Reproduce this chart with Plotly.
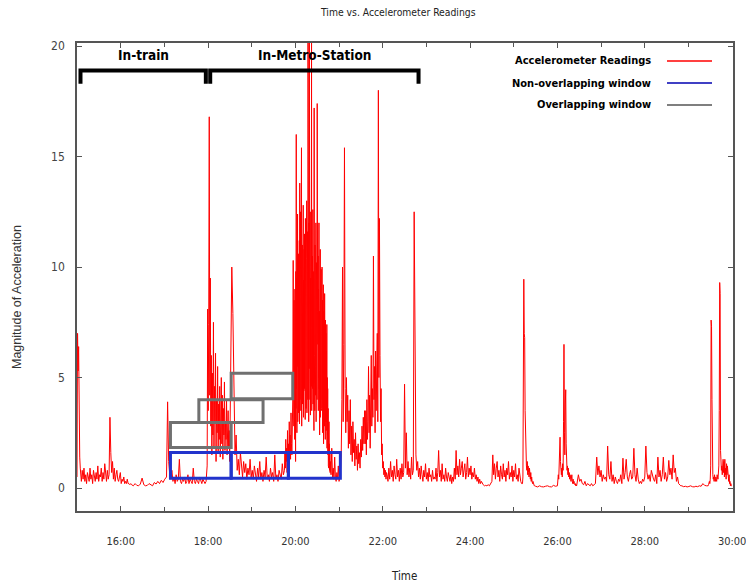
import numpy as np
import plotly.graph_objects as go

# ---------------- data ----------------
# time segments (minutes) and accelerometer magnitudes sampled within each
segment_bounds = [
    (15.00, 15.10), (15.10, 16.25), (16.25, 17.05), (17.05, 17.98),
    (17.98, 18.52), (18.52, 19.75), (19.75, 19.95), (19.95, 20.80),
    (20.80, 21.05), (21.05, 21.60), (21.60, 22.10), (22.10, 23.20),
    (23.20, 24.30), (24.30, 24.50), (24.50, 25.20), (25.20, 25.50),
    (25.50, 26.00), (26.00, 26.45), (26.45, 26.90), (26.90, 27.40),
    (27.40, 27.90), (27.90, 28.40), (28.40, 28.85), (28.85, 29.45),
    (29.45, 30.00),
]
segment_values = [
    [0.5, 7.0, 5.3, 6.4, 2.1, 1.4, 0.9, 0.6],
    [0.3, 0.8, 0.4, 0.9, 0.3, 0.6, 0.2, 0.7, 0.5, 0.3, 0.9, 0.4, 0.6, 0.2, 0.8, 0.5,
     0.3, 0.7, 0.4, 1.0, 0.3, 0.6, 0.5, 0.9, 0.3, 0.7, 0.4, 1.1, 0.5, 0.3, 0.8, 0.4,
     0.6, 3.2, 1.6, 0.7, 1.2, 0.4, 0.9, 0.3, 0.6, 0.8, 0.4, 0.3, 0.5, 0.7, 0.2, 0.4,
     0.3, 0.5, 0.2, 0.3, 0.2, 0.4, 0.2, 0.2, 0.15, 0.2],
    [0.15, 0.1, 0.2, 0.12, 0.1, 0.18, 0.45, 0.15, 0.1, 0.12, 0.2, 0.15, 0.1, 0.25,
     0.18, 0.3, 0.2, 0.35, 0.25, 0.4],
    [0.5, 3.9, 1.2, 0.6, 0.4, 0.8, 0.3, 0.5, 0.2, 0.6, 0.3, 0.4, 1.3, 0.3, 0.2, 0.4,
     0.3, 0.5, 0.2, 0.3, 0.6, 0.2, 0.4, 0.3, 0.2, 0.9, 0.3, 0.2, 0.4, 0.3, 0.2, 0.5,
     0.3, 0.2, 0.4, 0.3, 0.2, 0.3],
    [1.0, 8.1, 3.5, 7.4, 16.8, 4.2, 9.5, 2.8, 6.0, 1.5, 5.2, 2.4, 7.5, 1.8, 4.6, 3.0,
     6.1, 1.2, 4.0, 2.5, 5.5, 1.6, 3.8, 2.2, 4.6, 1.4, 3.2, 5.0, 2.0, 4.2, 1.3, 3.6,
     2.4, 4.8, 1.7, 3.0, 2.2, 4.0, 1.5, 2.8, 3.5, 1.9, 2.6, 1.2, 3.0],
    [4.5, 10.0, 7.9, 3.0, 1.5, 2.4, 0.8, 1.3, 0.6, 1.6, 0.9, 0.5, 1.2, 0.7, 1.1, 0.4,
     0.9, 0.6, 1.3, 0.5, 0.8, 0.4, 1.0, 0.6, 0.3, 0.9, 0.5, 1.2, 0.4, 0.7, 0.3, 0.8,
     0.5, 1.4, 0.4, 0.6, 0.3, 0.9, 0.5, 0.7, 0.3, 1.5, 0.4, 0.6, 0.3, 0.8, 0.5, 0.4,
     1.1, 0.6],
    [0.8, 1.6, 0.9, 2.2, 1.2, 1.8, 0.7, 2.6, 1.4, 2.0, 1.1, 3.0, 1.6, 2.4, 1.3, 3.4,
     2.0, 1.5, 2.8, 4.0],
    [10.3, 3.5, 7.0, 2.8, 8.5, 4.0, 6.5, 2.2, 9.0, 5.0,
     7.5, 1.2, 9.8, 3.6, 16.0, 4.5, 8.0, 2.5, 9.5, 5.5, 12.4, 3.0, 8.8, 4.2, 10.6, 3.4, 7.8, 5.0, 11.2, 2.9,
     13.8, 4.0, 9.2, 6.0, 12.5, 3.5, 10.0, 5.0, 15.4, 2.8, 9.6, 4.6, 11.0, 3.8, 8.4, 5.2, 12.8, 3.2, 9.4, 4.4,
     10.8, 4.5, 11.5, 6.5, 9.0, 3.1, 12.2, 5.0, 8.6, 3.6, 10.4, 4.8, 13.0, 3.4, 9.8, 5.6, 11.6, 4.0, 20.2, 6.2,
     9.4, 3.0, 12.0, 5.4, 20.2, 7.0, 10.2, 4.0, 12.5, 3.3, 9.5, 6.0, 11.2, 4.6, 20.2, 3.5, 8.5, 5.0, 10.5, 4.5,
     12.6, 3.8, 9.8, 5.2, 11.4, 2.6, 17.2, 6.0, 9.0, 3.5, 11.0, 5.5, 8.8, 4.2, 12.0, 3.0, 10.2, 5.6, 9.4, 4.0,
     17.4, 4.0, 8.0, 6.5, 10.5, 3.5, 9.0, 5.0, 12.0, 4.5, 8.0, 2.4, 9.5, 5.5, 10.8, 3.2, 8.6, 4.8, 9.9, 3.6,
     7.0, 3.5, 10.0, 4.0, 8.5, 2.5, 7.5, 4.0, 9.2, 2.0, 8.0, 3.4, 7.2, 2.8, 8.8, 3.8, 6.6, 2.2, 7.6, 3.0,
     7.0, 2.6, 6.2, 3.0, 7.4, 1.8, 5.0, 2.4, 4.5, 1.5, 3.6, 1.0, 2.5, 0.9, 3.0, 1.2, 2.0, 0.8, 1.6, 0.7],
    [1.2, 0.6, 1.8, 0.5, 0.9, 0.4, 1.4, 0.5, 0.3, 0.7, 0.4, 1.0, 0.3, 0.5, 0.8],
    [1.5, 4.0, 10.0, 3.0, 6.5, 15.4, 4.5, 2.5, 5.0, 3.0, 4.2, 1.8, 3.5, 2.0, 4.0, 1.5,
     2.8, 1.2, 3.0, 1.6, 2.2, 1.0, 2.5, 1.3, 1.9, 0.8, 2.0, 1.1, 1.6, 0.9, 2.2, 1.4,
     2.8, 1.7, 3.2, 2.0, 3.5],
    [2.0, 3.5, 1.5, 4.0, 2.2, 3.0, 5.5, 2.5, 4.2, 1.8, 3.6, 6.0, 2.8, 4.5, 3.2, 10.5,
     4.0, 5.5, 2.5, 6.2, 3.5, 4.8, 7.0, 3.0, 18.0, 5.0, 12.2, 6.0, 3.0, 4.5, 1.5, 2.0,
     0.9, 1.2, 0.6, 0.9, 0.5, 0.8, 0.4, 0.7],
    [0.6, 0.3, 0.9, 0.4, 1.2, 0.5, 0.8, 0.3, 1.0, 0.6, 0.4, 1.3, 0.5, 0.8, 0.3, 0.9,
     0.4, 1.1, 0.5, 0.7, 4.7, 0.9, 2.5, 0.6, 1.2, 0.5, 0.9, 0.4, 1.4, 0.6, 0.8, 12.5,
     7.1, 1.5, 0.8, 1.2, 0.5, 0.9, 0.4, 1.0, 0.6, 0.3, 0.8, 0.5, 1.1, 0.4, 0.7, 0.3,
     0.9, 0.5, 0.6, 0.3, 0.8, 0.4, 0.5],
    [0.4, 0.9, 0.3, 0.7, 1.7, 0.5, 0.8, 0.3, 1.1, 0.4, 0.6, 0.3, 0.9, 0.5, 0.3, 0.7,
     0.4, 0.3, 0.6, 0.2, 0.5, 0.3, 0.9, 0.4, 1.7, 0.6, 1.0, 0.5, 1.3, 0.6, 0.9, 1.2,
     0.5, 0.8, 1.1, 0.4, 0.7, 1.4, 0.5, 0.9, 0.6, 1.0, 0.4, 0.7, 0.5, 0.9, 0.4, 0.6,
     0.3, 0.5, 0.2, 0.4, 0.2, 0.3, 0.2],
    [0.15, 0.1, 0.12, 0.1, 0.15, 0.1, 0.2],
    [0.3, 1.5, 0.6, 1.1, 0.4, 0.9, 1.2, 0.5, 0.8, 0.3, 1.0, 0.6, 0.4, 1.1, 0.5, 0.8,
     0.3, 0.9, 0.6, 1.2, 0.4, 0.7, 0.5, 1.0, 0.3, 0.8, 0.5, 1.1, 0.4, 0.6, 0.3, 0.9,
     0.4, 0.3, 0.2],
    [0.2, 0.5, 3.0, 9.45, 7.0, 6.8, 3.5, 1.6, 2.5, 1.0, 0.8, 1.2, 0.6, 1.0, 0.7, 0.5,
     0.9, 0.6, 0.4, 0.7, 0.3, 0.5, 0.3, 0.2, 0.3, 0.2, 0.15, 0.1, 0.1, 0.1],
    [0.08, 0.05, 0.1, 0.06, 0.05, 0.08, 0.1, 0.06, 0.05, 0.12, 0.08],
    [0.1, 0.3, 0.6, 0.4, 1.0, 0.7, 2.3, 1.2, 0.8, 0.6, 0.9, 0.5, 1.1, 0.8, 3.0, 6.5,
     2.5, 1.5, 3.8, 4.45, 2.0, 1.2, 0.8, 1.0, 0.6, 0.9, 0.5, 0.7, 0.4, 0.6, 0.5, 0.3,
     0.4, 0.6, 0.3, 0.2, 0.4, 0.2, 0.3, 0.2, 0.15, 0.2, 0.1, 0.15, 0.1],
    [0.2, 0.6, 0.3, 0.4, 0.2, 0.15, 0.3, 0.1, 0.2, 0.15, 0.1, 0.2, 0.1, 0.15, 0.2],
    [1.4, 0.6, 1.0, 0.5, 0.8, 0.3, 0.6, 0.4, 0.5, 0.3, 1.9, 0.6, 0.4, 1.2, 0.3, 0.6,
     0.2, 0.5, 0.3, 0.2],
    [0.4, 0.3, 0.6, 0.2, 1.35, 0.4, 0.7, 1.3, 0.5, 0.3, 0.6, 0.8, 0.4, 0.5, 1.8, 0.6,
     0.3, 0.9, 0.4, 0.2],
    [0.3, 0.2, 0.4, 0.3, 0.5, 1.9, 0.7, 0.4, 0.6, 0.3, 0.8, 0.5, 0.4, 0.3, 0.6, 0.2,
     1.4, 0.5, 0.8, 0.3],
    [0.6, 1.4, 0.4, 0.7, 0.3, 0.5, 1.25, 0.6, 0.9, 0.4, 1.5, 0.7, 0.9, 0.3, 0.5, 0.2,
     0.15, 0.1],
    [0.1, 0.06, 0.08, 0.05, 0.07, 0.1, 0.06, 0.05, 0.08, 0.06, 0.1, 0.08, 0.2, 0.12, 0.1],
    [0.1, 0.15, 0.2, 0.3, 0.2, 0.4, 1.0, 7.6, 7.3, 4.0, 1.0, 0.6, 0.4, 0.5, 0.3, 0.6,
     0.4, 0.3, 0.5, 0.4, 0.3, 0.6, 0.5, 0.4, 0.8, 1.0, 3.5, 9.3, 8.8, 1.7, 1.2, 0.8,
     1.0, 0.6, 0.9, 1.3, 0.7, 1.2, 0.5, 1.3, 0.6, 0.9, 0.4, 1.1, 0.6, 1.0, 0.5, 0.8,
     0.3, 0.6, 0.2, 0.3, 0.1, 0.2, 0.1, 0.1],
]

# analysis windows (time start, time end, low, high)
nonoverlap_starts = [17.14, 18.53, 19.84]
nonoverlap_ends = [18.53, 19.84, 21.03]
nonoverlap_low = [0.44, 0.44, 0.44]
nonoverlap_high = [1.61, 1.61, 1.61]

overlap_starts = [17.14, 17.79, 18.53]
overlap_ends = [18.53, 19.26, 19.94]
overlap_low = [1.83, 2.96, 4.04]
overlap_high = [2.96, 4.0, 5.19]

# context brackets
bracket_labels = ["In-train", "In-Metro-Station"]
bracket_starts = [15.08, 18.05]
bracket_ends = [17.95, 22.82]
bracket_level = 18.9
bracket_leg = 18.3

tick_vals = [16, 18, 20, 22, 24, 26, 28, 30]
tick_text = ["16:00", "18:00", "20:00", "22:00", "24:00", "26:00", "28:00", "30:00"]
minor_tick_vals = [15, 17, 19, 21, 23, 25, 27, 29]
y_tick_vals = [0, 5, 10, 15, 20]

legend_names = ["Accelerometer Readings", "Non-overlapping window", "Overlapping window"]
legend_colors = ["#ff0000", "#0000b0", "#555555"]

# ---------------- build series ----------------
times = []
accel = []
for (t0, t1), vals in zip(segment_bounds, segment_values):
    ts = np.linspace(t0, t1, len(vals), endpoint=False)
    times.extend(ts.tolist())
    accel.extend(vals)

NARROW = "DejaVu Sans Condensed, Liberation Sans Narrow, DejaVu Sans, sans-serif"

fig = go.Figure()
fig.add_trace(go.Scatter(x=times, y=accel, mode="lines",
                         line=dict(color="#ff0000", width=1),
                         showlegend=False, hoverinfo="skip"))

shapes = []
for s, e, lo, hi in zip(nonoverlap_starts, nonoverlap_ends, nonoverlap_low, nonoverlap_high):
    shapes.append(dict(type="rect", xref="x", yref="y", x0=s, x1=e, y0=lo, y1=hi,
                       line=dict(color="#2233cc", width=3)))
for s, e, lo, hi in zip(overlap_starts, overlap_ends, overlap_low, overlap_high):
    shapes.append(dict(type="rect", xref="x", yref="y", x0=s, x1=e, y0=lo, y1=hi,
                       line=dict(color="#707070", width=3)))

annotations = []
for lab, s, e in zip(bracket_labels, bracket_starts, bracket_ends):
    shapes.append(dict(type="path", xref="x", yref="y",
                       path=f"M {s},{bracket_leg} L {s},{bracket_level} L {e},{bracket_level} L {e},{bracket_leg}",
                       line=dict(color="#000000", width=4)))
    annotations.append(dict(x=(s + e) / 2, y=19.6, xref="x", yref="y", text=lab,
                            showarrow=False, xanchor="center", yanchor="middle",
                            font=dict(family=NARROW, size=13.5, color="#000000", weight="bold")))

# legend drawn in paper coordinates, text right-aligned with sample line to the right
plot_l, plot_r, plot_t, plot_b = 77, 733, 43, 511
W, H = plot_r - plot_l, plot_b - plot_t
def px_x(p):
    return (p - plot_l) / W
def px_y(p):
    return (plot_b - p) / H

legend_rows = [61, 83, 105]
for name, col, ry in zip(legend_names, legend_colors, legend_rows):
    annotations.append(dict(x=px_x(653), y=px_y(ry), xref="paper", yref="paper", text=name,
                            showarrow=False, xanchor="right", yanchor="middle",
                            font=dict(family=NARROW, size=11, color="#000000", weight="bold")))
    shapes.append(dict(type="line", xref="paper", yref="paper",
                       x0=px_x(667), x1=px_x(712), y0=px_y(ry), y1=px_y(ry),
                       line=dict(color=col, width=1.5)))

annotations.append(dict(x=px_x(404), y=px_y(576), xref="paper", yref="paper", text="Time",
                        showarrow=False, xanchor="center", yanchor="middle",
                        font=dict(family=NARROW, size=11.5, color="#222222")))
annotations.append(dict(x=px_x(17), y=px_y(297), xref="paper", yref="paper",
                        text="Magnitude of Acceleration", textangle=-90,
                        showarrow=False, xanchor="center", yanchor="middle",
                        font=dict(family="Liberation Sans, Arial, sans-serif", size=12.5, color="#333333")))
annotations.append(dict(x=px_x(398), y=px_y(12), xref="paper", yref="paper",
                        text="Time vs. Accelerometer Readings",
                        showarrow=False, xanchor="center", yanchor="middle",
                        font=dict(family=NARROW, size=10.3, color="#222222")))

fig.update_layout(
    width=746, height=587,
    margin=dict(l=plot_l, r=746 - plot_r, t=plot_t, b=587 - plot_b, autoexpand=False),
    paper_bgcolor="white", plot_bgcolor="white",
    showlegend=False,
    shapes=shapes, annotations=annotations,
    xaxis=dict(range=[15.0, 30.02], tickmode="array", tickvals=tick_vals, ticktext=tick_text,
               ticks="inside", ticklen=5, tickcolor="#555555", showgrid=False, zeroline=False,
               showline=True, linecolor="#555555", linewidth=1.5, mirror="allticks",
               tickfont=dict(family=NARROW, size=11, color="#333333"),
               ticklabeloverflow="allow", automargin=False,
               minor=dict(tickmode="array", tickvals=minor_tick_vals, ticks="inside",
                          ticklen=4, tickcolor="#555555", showgrid=False),
               ticklabelstandoff=19),
    yaxis=dict(range=[-1.04, 20.14], tickmode="array", tickvals=y_tick_vals,
               ticks="inside", ticklen=5, tickcolor="#555555", showgrid=False, zeroline=False,
               showline=True, linecolor="#555555", linewidth=1.5, mirror="allticks",
               automargin=False,
               tickfont=dict(family=NARROW, size=12, color="#444444"),
               ticklabelstandoff=8),
)

fig.write_html("out.html")
